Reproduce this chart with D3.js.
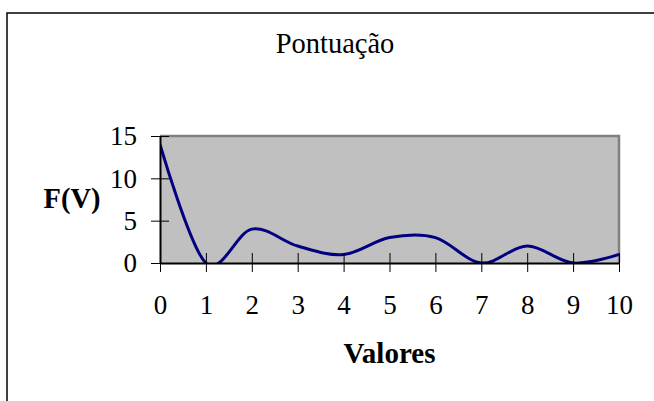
<!DOCTYPE html>
<html>
<head>
<meta charset="utf-8">
<script src="https://cdn.jsdelivr.net/npm/d3@7"></script>
<style>
  body { margin: 0; background: #fff; }
  text { font-family: "Liberation Serif", "Times New Roman", serif; }
</style>
</head>
<body>
<div id="d3-container"></div>
<script>
// values
const xValues = [0, 1, 2, 3, 4, 5, 6, 7, 8, 9, 10];
const fValues = [14, 0, 4, 2, 1, 3, 3, 0, 2, 0, 1];
const yTicks = [0, 5, 10, 15];
const xTicks = [0, 1, 2, 3, 4, 5, 6, 7, 8, 9, 10];

const title = "Pontuação";
const xTitle = "Valores";
const yTitle = "F(V)";

const width = 654;
const height = 401;
const margin = { top: 136, right: 35, bottom: 138, left: 160 };

const data = xValues.map((x, i) => ({ x: x, y: fValues[i] }));

const xScale = d3.scaleLinear()
    .domain([0, 10])
    .range([margin.left, width - margin.right])

const yScale = d3.scaleLinear()
    .domain([0, 15])
    .range([height - margin.bottom, margin.top])

const svg = d3.select("#d3-container")
    .append("svg")
    .attr("width", width)
    .attr("height", height)

// outer chart border (right and bottom sides fall outside the picture)
svg.append("rect")
    .attr("x", 7)
    .attr("y", 13)
    .attr("width", 700)
    .attr("height", 450)
    .attr("fill", "white")
    .attr("stroke", "black")
    .attr("stroke-width", 1.5)

// plot area
const x0 = xScale(0), x1 = xScale(10), y0 = yScale(0), y1 = yScale(15);
svg.append("rect")
    .attr("x", x0)
    .attr("y", y1)
    .attr("width", x1 - x0)
    .attr("height", y0 - y1)
    .attr("fill", "#c0c0c0")

svg.append("path")
    .attr("d", `M${x0},${y1}H${x1}V${y0}`)
    .attr("fill", "none")
    .attr("stroke", "#808080")
    .attr("stroke-width", 2.5)

svg.append("clipPath")
    .attr("id", "plot-clip")
    .append("rect")
    .attr("x", x0)
    .attr("y", y1)
    .attr("width", x1 - x0)
    .attr("height", y0 - y1)

const line = d3.line()
    .x(d => xScale(d.x))
    .y(d => yScale(d.y))
    .curve(d3.curveCardinal.tension(0))

svg.append("path")
    .datum(data)
    .attr("clip-path", "url(#plot-clip)")
    .attr("fill", "none")
    .attr("stroke", "#000080")
    .attr("stroke-width", 3)
    .attr("d", line)

const xAxis = g => g
    .attr("transform", `translate(0,${y0})`)
    .call(d3.axisBottom(xScale).tickValues(xTicks).tickSize(9).tickSizeOuter(0))
    .call(g => g.select(".domain").attr("stroke", "black").attr("stroke-width", 2))
    .call(g => g.selectAll(".tick line").attr("y1", -10).attr("y2", 9).attr("stroke", "black"))
    .call(g => g.selectAll(".tick text")
        .attr("y", 51).attr("dy", 0)
        .attr("font-size", 27)
        .attr("font-family", "Liberation Serif")
        .attr("fill", "black"))

const yAxis = g => g
    .attr("transform", `translate(${x0},0)`)
    .call(d3.axisLeft(yScale).tickValues(yTicks).tickSize(9).tickSizeOuter(0))
    .call(g => g.select(".domain").attr("stroke", "black").attr("stroke-width", 2))
    .call(g => g.selectAll(".tick line").attr("x1", -9).attr("x2", 9).attr("stroke", "black"))
    .call(g => g.selectAll(".tick text")
        .attr("x", -23).attr("dy", "0.33em")
        .attr("font-size", 27)
        .attr("font-family", "Liberation Serif")
        .attr("fill", "black"))

svg.append("g").attr("class", "axis x-axis").call(xAxis)
svg.append("g").attr("class", "axis y-axis").call(yAxis)

svg.append("text")
    .attr("x", 335)
    .attr("y", 53)
    .attr("text-anchor", "middle")
    .attr("font-size", 28.5)
    .text(title)

svg.append("text")
    .attr("x", (x0 + x1) / 2)
    .attr("y", 363)
    .attr("text-anchor", "middle")
    .attr("font-size", 29)
    .attr("font-weight", "bold")
    .text(xTitle)

svg.append("text")
    .attr("x", 72)
    .attr("y", 208)
    .attr("text-anchor", "middle")
    .attr("font-size", 28.5)
    .attr("font-weight", "bold")
    .text(yTitle)
</script>
</body>
</html>
